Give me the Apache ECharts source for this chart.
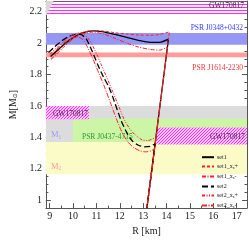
<!DOCTYPE html>
<html><head><meta charset="utf-8">
<script src="https://cdn.jsdelivr.net/npm/echarts@6/dist/echarts.min.js"></script>
<style>html,body{margin:0;padding:0;background:#fff}#c{width:249px;height:241px}</style>
</head><body><div id="c"></div>
<script>
// ---- data ----
const set1R  = [9.04,9.3,9.6,10.0,10.4,10.85,11.3,11.8,12.3,12.8,13.3,13.7,14.08,13.16];
const set1M  = [1.915,1.95,1.99,2.035,2.065,2.078,2.072,2.055,2.037,2.018,2.005,2.005,2.025,0.95];
const set1pR = [9.06,9.3,9.6,10.0,10.4,10.85,11.3,11.8,12.3,12.8,13.3,13.7,14.12,13.16];
const set1pM = [1.9,1.94,1.985,2.035,2.067,2.08,2.077,2.066,2.058,2.052,2.05,2.055,2.072,0.95];
const set1mR = [9.06,9.3,9.6,10.0,10.4,10.85,11.3,11.8,12.3,12.8,13.3,13.7,14.04,13.16];
const set1mM = [1.895,1.93,1.975,2.025,2.058,2.07,2.058,2.03,2.0,1.975,1.96,1.955,1.975,0.95];
const set2R  = [8.95,9.2,9.5,9.8,10.1,10.3,10.55,10.8,11.05,11.3,11.55,11.8,12.05,12.3,12.55,12.8,13.05,13.3,13.51,13.16];
const set2M  = [1.94,1.975,2.012,2.04,2.055,2.055,2.03,1.955,1.865,1.785,1.715,1.615,1.51,1.43,1.375,1.35,1.34,1.343,1.36,0.95];
const set2pR = [9.0,9.3,9.6,9.9,10.2,10.45,10.7,10.95,11.2,11.45,11.7,11.95,12.2,12.45,12.7,12.95,13.2,13.55,13.16];
const set2pM = [1.93,1.97,2.01,2.045,2.065,2.06,2.02,1.95,1.865,1.78,1.69,1.6,1.51,1.45,1.41,1.385,1.38,1.40,0.95];
const set2mR = [9.0,9.3,9.6,9.9,10.15,10.4,10.6,10.85,11.1,11.35,11.6,11.85,12.1,12.35,12.6,12.85,13.1,13.35,13.49,13.16];
const set2mM = [1.92,1.96,2.0,2.03,2.04,2.025,1.98,1.9,1.81,1.72,1.62,1.52,1.43,1.37,1.335,1.315,1.308,1.315,1.33,0.95];

const seriesNames = ['set1','set1_xs+','set1_xs-','set2','set2_xs+','set2_xs-'];
const xTicks = [9,10,11,12,13,14,15,16,17];
const yTicks = [1,1.2,1.4,1.6,1.8,2,2.2];

// observational constraints (mass / radius ranges)
const gwTopM = [2.18, 2.264];
const j0348M = [1.99, 2.065];
const j1614M = [1.91, 1.94];
const m1M = [1.37, 1.6];
const m2M = [1.165, 1.37];
const j0437R = [10.0, 17.44], j0437M = [1.37, 1.52];
const gwLeftR = [8.84, 10.68], gwLeftM = [1.515, 1.6];
const gwRightR = [13.56, 17.44], gwRightM = [1.355, 1.463];
const causalR = [8.84, 9.17, 8.84];
const causalM = [2.268, 2.268, 2.175];

// ---- chart ----
const X0 = 8.84, X1 = 17.44, Y0 = 0.95, Y1 = 2.268;
const FONT = 'Liberation Serif';
const xMinor = []; for (let i = 0; i <= 16; i++) xMinor.push(9 + i * 0.5);
const yMinor = []; for (let i = 0; i <= 26; i++) yMinor.push(Math.round((0.95 + i * 0.05) * 100) / 100);

function hatch(kind) {
  const c = document.createElement('canvas');
  const s = 3; c.width = s; c.height = s;
  const g = c.getContext('2d');
  g.fillStyle = '#ffffff'; g.fillRect(0, 0, s, s);
  g.strokeStyle = '#ff2cff'; g.lineWidth = 1.1;
  g.beginPath();
  if (kind === 'h') { g.moveTo(0, 1.5); g.lineTo(s, 1.5); }
  else { g.moveTo(-1, s + 1); g.lineTo(s + 1, -1); g.moveTo(-1, 1); g.lineTo(1, -1); g.moveTo(s - 1, s + 1); g.lineTo(s + 1, s - 1); }
  g.stroke();
  return { image: c, repeat: 'repeat' };
}

function xAx(pos, ticks, len, line, label, extra) {
  return Object.assign({
    type: 'value', min: X0, max: X1, position: pos,
    axisLine: { show: line, onZero: false, lineStyle: { color: '#555', width: 1 } },
    axisTick: { show: true, inside: true, length: len, customValues: ticks, lineStyle: { color: '#555' } },
    axisLabel: label ? { customValues: xTicks, fontFamily: FONT, fontSize: 10, color: '#222', margin: 3 } : { show: false },
    splitLine: { show: false }
  }, extra || {});
}
function yAx(pos, ticks, len, line, label, extra) {
  return Object.assign({
    type: 'value', min: Y0, max: Y1, position: pos,
    axisLine: { show: line, onZero: false, lineStyle: { color: '#555', width: 1 } },
    axisTick: { show: true, inside: true, length: len, customValues: ticks, lineStyle: { color: '#555' } },
    axisLabel: label ? { customValues: yTicks, fontFamily: FONT, fontSize: 10, color: '#222', margin: 4 } : { show: false },
    splitLine: { show: false }
  }, extra || {});
}

function curve(i, R, M, color, width, dash) {
  return {
    name: seriesNames[i], type: 'line', xAxisIndex: 0, yAxisIndex: 0,
    data: R.map((r, k) => [r, M[k]]), symbol: 'none', smooth: 0.25, clip: true,
    lineStyle: { color: color, width: width, type: dash }, itemStyle: { color: color }, z: 5
  };
}

const lab = (extra) => Object.assign({ show: true, fontFamily: FONT, fontSize: 7.5 }, extra);

const areaData = [
  [{ name: 'GW170817', yAxis: gwTopM[0], itemStyle: { color: hatch('h') },
     label: lab({ color: '#333', position: ['100%', '0%'], align: 'right', verticalAlign: 'top', offset: [-3, 0] }) },
   { yAxis: gwTopM[1] }],
  [{ name: 'PSR J0348+0432', yAxis: j0348M[0], itemStyle: { color: '#9696f5' },
     label: lab({ color: '#3a3aff', position: ['100%', '0%'], align: 'right', verticalAlign: 'bottom', offset: [-4, -1] }) },
   { yAxis: j0348M[1] }],
  [{ name: 'PSR J1614-2230', yAxis: j1614M[0], itemStyle: { color: '#ff9d9d' },
     label: lab({ color: '#ff3333', position: ['100%', '100%'], align: 'right', verticalAlign: 'top', offset: [-4, 7] }) },
   { yAxis: j1614M[1] }],
  [{ name: 'M1', yAxis: m1M[0], itemStyle: { color: '#dcdcdc' },
     label: lab({ formatter: '{m|M}{s|1}', position: ['0%', '100%'], align: 'left', verticalAlign: 'bottom', offset: [5, -2],
       rich: { m: { color: '#9a9aff', fontFamily: FONT, fontSize: 8.5 }, s: { color: '#9a9aff', fontFamily: FONT, fontSize: 5.5, verticalAlign: 'bottom', padding: [4, 0, 0, 0] } } }) },
   { yAxis: m1M[1] }],
  [{ name: 'M2', yAxis: m2M[0], itemStyle: { color: '#fbfbc8' },
     label: lab({ formatter: '{m|M}{s|2}', position: ['0%', '100%'], align: 'left', verticalAlign: 'bottom', offset: [5, -3],
       rich: { m: { color: '#ff9a9a', fontFamily: FONT, fontSize: 8.5 }, s: { color: '#ff9a9a', fontFamily: FONT, fontSize: 5.5, verticalAlign: 'bottom', padding: [4, 0, 0, 0] } } }) },
   { yAxis: m2M[1] }],
  [{ name: 'PSR J0437-4715', xAxis: j0437R[0], yAxis: j0437M[0], itemStyle: { color: '#cdf5a6' },
     label: lab({ color: '#2d9a2d', position: ['0%', '100%'], align: 'left', verticalAlign: 'bottom', offset: [9, -1] }) },
   { xAxis: j0437R[1], yAxis: j0437M[1] }],
  [{ name: 'GW170817', xAxis: gwLeftR[0], yAxis: gwLeftM[0], itemStyle: { color: hatch('d') },
     label: lab({ color: '#333', position: 'inside', offset: [3, 1] }) },
   { xAxis: gwLeftR[1], yAxis: gwLeftM[1] }],
  [{ name: 'GW170817', xAxis: gwRightR[0], yAxis: gwRightM[0], itemStyle: { color: hatch('d') },
     label: lab({ color: '#333', position: ['100%', '50%'], align: 'right', verticalAlign: 'middle', offset: [-2, 1] }) },
   { xAxis: gwRightR[1], yAxis: gwRightM[1] }]
];

const option = {
  animation: false,
  backgroundColor: '#fff',
  grid: { left: 32, right: 2, top: 1, bottom: 24 },
  xAxis: [
    xAx('bottom', xTicks, 5, true, true, { name: 'R [km]', nameLocation: 'middle', nameGap: 12,
      nameTextStyle: { fontFamily: FONT, fontSize: 10, color: '#222' } }),
    xAx('bottom', xMinor, 2.5, false, false),
    xAx('top', xTicks, 5, true, false),
    xAx('top', xMinor, 2.5, false, false)
  ],
  yAxis: [
    yAx('left', yTicks, 5, true, true, { name: '{a|M[M}{s|⊙}{a|]}', nameLocation: 'middle', nameGap: 20, nameRotate: 90,
      nameTextStyle: { fontFamily: FONT, fontSize: 10, color: '#222',
        rich: { a: { fontFamily: FONT, fontSize: 10, color: '#222' }, s: { fontFamily: 'DejaVu Sans', fontSize: 6, color: '#222', verticalAlign: 'bottom', padding: [5, 0, 0, 0] } } } }),
    yAx('left', yMinor, 2.5, false, false),
    yAx('right', yTicks, 5, true, false),
    yAx('right', yMinor, 2.5, false, false)
  ],
  legend: {
    orient: 'vertical', left: 196, top: 149, itemWidth: 12, itemHeight: 8, itemGap: 2.8,
    data: seriesNames,
    itemStyle: { opacity: 0 },
    formatter: n => n.indexOf('_xs') >= 0 ? n.replace('_xs', '_x{s|s}') : n,
    textStyle: { fontFamily: FONT, fontSize: 6, color: '#222', padding: [0, 0, 0, -2],
      rich: { s: { fontFamily: FONT, fontSize: 4.5, color: '#222', verticalAlign: 'bottom', padding: [3, 0, 0, 0] } } }
  },
  series: [
    { type: 'line', name: 'bands', data: [], xAxisIndex: 0, yAxisIndex: 0, silent: true, z: 1,
      markArea: { silent: true, data: areaData } },
    { type: 'custom', name: 'causal', xAxisIndex: 0, yAxisIndex: 0, z: 2, clip: true,
      data: [[causalR[0], causalM[0]]],
      renderItem: (params, api) => ({ type: 'polygon',
        shape: { points: causalR.map((r, k) => api.coord([r, causalM[k]])) },
        style: { fill: '#d8d8d8' } }) },
    curve(0, set1R, set1M, '#000000', 1.3, 'solid'),
    curve(1, set1pR, set1pM, '#ff2020', 1, [3, 2]),
    curve(2, set1mR, set1mM, '#ff2020', 1, [4, 1.5, 1, 1.5]),
    curve(3, set2R, set2M, '#000000', 1.3, [6, 3]),
    curve(4, set2pR, set2pM, '#ff2020', 1, [3, 1.5, 1, 1.5, 1, 1.5]),
    curve(5, set2mR, set2mM, '#ff2020', 1, [5, 1.5, 1, 1.5])
  ]
};
const chart = echarts.init(document.getElementById('c'), null, { renderer: 'canvas' });
chart.setOption(option);
</script></body></html>
